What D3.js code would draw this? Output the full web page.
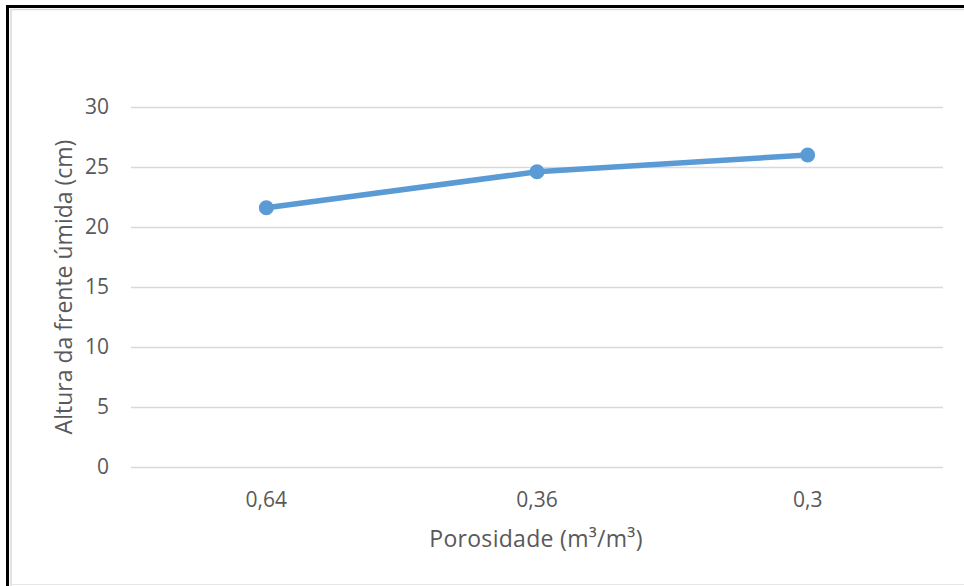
<!DOCTYPE html>
<html>
<head>
<meta charset="utf-8">
<script src="https://cdn.jsdelivr.net/npm/d3@7"></script>
<style>
  html, body { margin: 0; padding: 0; background: #fff; }
  svg { display: block; }
</style>
</head>
<body>
<svg id="chart" width="964" height="586"></svg>
<script>
// Porosity categories and wetting-front height (cm)
const categories = ["0,64", "0,36", "0,3"];
const heights = [21.6, 24.6, 26.0];
const yTicks = [0, 5, 10, 15, 20, 25, 30];
const xTitle = "Porosidade (m³/m³)";
const yTitle = "Altura da frente úmida (cm)";

const svg = d3.select("#chart");
const W = 964, H = 586;
const font = "'Open Sans', 'Noto Sans', sans-serif";
const textColor = "#595959";

// outer frame
svg.append("rect").attr("x", 0).attr("y", 0).attr("width", W).attr("height", H).attr("fill", "#fff");
svg.append("path")
  .attr("d", `M7.5,${H} V6.5 H${W}`)
  .attr("fill", "none").attr("stroke", "#000").attr("stroke-width", 3);
svg.append("path")
  .attr("d", `M11,${H} V9.5 H${W}`)
  .attr("fill", "none").attr("stroke", "#d9d9d9").attr("stroke-width", 1.5);
svg.append("line")
  .attr("x1", 11).attr("x2", W).attr("y1", 584.5).attr("y2", 584.5)
  .attr("stroke", "#e6e6e6").attr("stroke-width", 1);

const plot = { left: 131, right: 943, top: 107, bottom: 467 };

const x = d3.scaleBand().domain(categories).range([plot.left, plot.right]);
const y = d3.scaleLinear().domain([0, 30]).range([plot.bottom, plot.top]);

// horizontal gridlines
svg.append("g")
  .selectAll("line")
  .data(yTicks)
  .join("line")
  .attr("x1", plot.left).attr("x2", plot.right)
  .attr("y1", d => Math.round(y(d)) + 0.5).attr("y2", d => Math.round(y(d)) + 0.5)
  .attr("stroke", "#d9d9d9").attr("stroke-width", 1.5);

// y axis labels
const yAxis = d3.axisLeft(y).tickValues(yTicks).tickSize(0).tickPadding(22);
svg.append("g")
  .attr("transform", `translate(${plot.left},0)`)
  .call(yAxis)
  .call(g => g.select(".domain").remove())
  .call(g => g.selectAll("text")
    .attr("font-family", font).attr("font-size", 21).attr("fill", textColor));

// x axis labels
const xAxis = d3.axisBottom(x).tickSize(0).tickPadding(25);
svg.append("g")
  .attr("transform", `translate(0,${plot.bottom})`)
  .call(xAxis)
  .call(g => g.select(".domain").remove())
  .call(g => g.selectAll("text")
    .attr("font-family", font).attr("font-size", 21).attr("fill", textColor));

// axis titles
svg.append("text")
  .attr("x", (plot.left + plot.right) / 2 - 1).attr("y", 547)
  .attr("text-anchor", "middle")
  .attr("font-family", font).attr("font-size", 23).attr("letter-spacing", 0.3)
  .attr("fill", textColor)
  .text(xTitle);

svg.append("text")
  .attr("transform", `translate(72,${(plot.top + plot.bottom) / 2}) rotate(-90)`)
  .attr("text-anchor", "middle")
  .attr("font-family", font).attr("font-size", 23)
  .attr("fill", textColor)
  .text(yTitle);

// series
const pts = categories.map((c, i) => ({ c, v: heights[i] }));
const color = "#5b9bd5";
const line = d3.line()
  .x(d => x(d.c) + x.bandwidth() / 2)
  .y(d => y(d.v));

svg.append("path")
  .datum(pts)
  .attr("d", line)
  .attr("fill", "none").attr("stroke", color)
  .attr("stroke-width", 5.5).attr("stroke-linecap", "round").attr("stroke-linejoin", "round");

svg.append("g")
  .selectAll("circle")
  .data(pts)
  .join("circle")
  .attr("cx", d => x(d.c) + x.bandwidth() / 2)
  .attr("cy", d => y(d.v))
  .attr("r", 7.5)
  .attr("fill", color);
</script>
</body>
</html>
